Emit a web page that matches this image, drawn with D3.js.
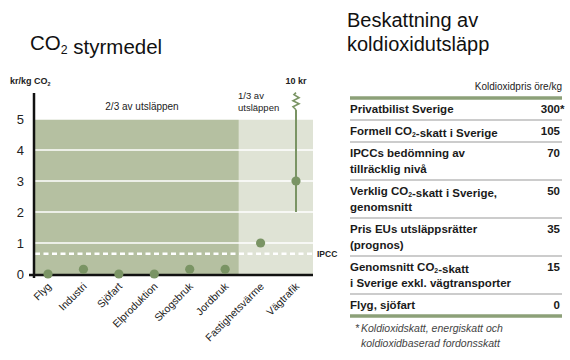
<!DOCTYPE html>
<meta charset="utf-8">
<style>
body { margin: 0; background: #fff; }
svg { font-family: "Liberation Sans", Arial, sans-serif; }
.cat { font-size: 10.5px; fill: #222; }
.ytick { font-size: 13px; fill: #222; }
.row { font-size: 11.5px; font-weight: bold; fill: #1a1a1a; }
.note { font-size: 10.5px; font-style: italic; fill: #444; }
</style>
<div id="chart"></div>
<script src="https://cdn.jsdelivr.net/npm/d3@7"></script>
<script>
// left chart data
var categories = ["Flyg", "Industri", "Sjöfart", "Elproduktion", "Skogsbruk", "Jordbruk", "Fastighetsvärme", "Vägtrafik"];
var values = [0, 0.15, 0, 0, 0.15, 0.15, 1, 3];
var rangeLow = 2;        // Vägtrafik range goes from 2 kr up to 10 kr (broken)
var ipccLevel = 0.65;
var yTicks = [0, 1, 2, 3, 4, 5];

// right table data
var tableLabels = [
  ["Privatbilist Sverige"],
  ["Formell CO₂-skatt i Sverige"],
  ["IPCCs bedömning av", "tillräcklig nivå"],
  ["Verklig CO₂-skatt i Sverige,", "genomsnitt"],
  ["Pris EUs utsläppsrätter", "(prognos)"],
  ["Genomsnitt CO₂-skatt", "i Sverige exkl. vägtransporter"],
  ["Flyg, sjöfart"]
];
var tableValues = ["300", "105", "70", "50", "35", "15", "0"];
var tableStars = [true, false, false, false, false, false, false];

var svg = d3.select("#chart").append("svg")
    .attr("width", 570)
    .attr("height", 360);

// writes a string, turning "₂" into a small lowered 2
function richText(sel, str) {
  var parts = str.split("₂");
  parts.forEach(function(p, i) {
    sel.append("tspan").text(p);
    if (i < parts.length - 1) {
      sel.append("tspan").attr("dy", "0.3em").style("font-size", "0.6em").text("2");
      sel.append("tspan").attr("dy", "-0.3em").text("");
    }
  });
}

// ---------- left chart ----------
var x = d3.scalePoint().domain(categories).range([48, 296]);
var y = d3.scaleLinear().domain([0, 5]).range([274, 119]);
var plotLeft = 35, plotRight = 313;
var split = (x("Jordbruk") + x("Fastighetsvärme")) / 2 - 4;

richText(svg.append("text").attr("x", 30).attr("y", 50)
  .style("font-size", "20.5px").attr("fill", "#111"), "CO₂ styrmedel");

richText(svg.append("text").attr("x", 10).attr("y", 84)
  .style("font-size", "9px").style("font-weight", "bold").attr("fill", "#222"), "kr/kg CO₂");

svg.append("rect").attr("x", plotLeft).attr("y", y(5))
  .attr("width", split - plotLeft).attr("height", y(0) - y(5)).attr("fill", "#b5c0a1");
svg.append("rect").attr("x", split).attr("y", y(5))
  .attr("width", plotRight - split).attr("height", y(0) - y(5)).attr("fill", "#dfe3d5");

// white gridlines
svg.selectAll(".grid").data(yTicks.slice(1)).enter().append("line")
  .attr("x1", plotLeft).attr("x2", plotRight)
  .attr("y1", function(d) { return y(d); }).attr("y2", function(d) { return y(d); })
  .attr("stroke", "#fff").attr("stroke-width", 1.3);

// IPCC dashed line
svg.append("line")
  .attr("x1", plotLeft).attr("x2", plotRight)
  .attr("y1", y(ipccLevel)).attr("y2", y(ipccLevel))
  .attr("stroke", "#fff").attr("stroke-width", 2.5).attr("stroke-dasharray", "5,3.5");
svg.append("text").attr("x", 317).attr("y", y(ipccLevel) + 3.5)
  .style("font-size", "8.5px").style("font-weight", "bold").attr("fill", "#222").text("IPCC");

svg.append("text").attr("x", 142).attr("y", 110).attr("text-anchor", "middle")
  .style("font-size", "10px").attr("fill", "#222").text("2/3 av utsläppen");
svg.append("text").attr("x", 238).attr("y", 99)
  .style("font-size", "9.5px").attr("fill", "#222").text("1/3 av");
svg.append("text").attr("x", 238).attr("y", 111)
  .style("font-size", "9.5px").attr("fill", "#222").text("utsläppen");

// Vägtrafik range with break to 10 kr
var vx = x("Vägtrafik");
var breakBottom = y(5.3), breakTop = y(5.85);
svg.append("line").attr("x1", vx).attr("x2", vx)
  .attr("y1", y(rangeLow)).attr("y2", breakBottom)
  .attr("stroke", "#7a9464").attr("stroke-width", 2);
var zz = [[vx, breakBottom], [vx - 3, breakBottom - 3], [vx + 3, breakBottom - 6], [vx - 3, breakBottom - 9],
          [vx + 3, breakBottom - 12], [vx - 2, breakBottom - 15], [vx, breakTop]];
svg.append("path").attr("d", d3.line()(zz))
  .attr("fill", "none").attr("stroke", "#7a9464").attr("stroke-width", 1.6);
svg.append("text").attr("x", vx).attr("y", 84).attr("text-anchor", "middle")
  .style("font-size", "9px").style("font-weight", "bold").attr("fill", "#222").text("10 kr");

// axes
svg.append("line").attr("x1", 34).attr("x2", 34).attr("y1", 93).attr("y2", 278)
  .attr("stroke", "#111").attr("stroke-width", 2.5);
svg.append("line").attr("x1", 29).attr("x2", plotRight).attr("y1", y(0) + 1).attr("y2", y(0) + 1)
  .attr("stroke", "#111").attr("stroke-width", 2.5);

svg.selectAll(".ytick").data(yTicks).enter().append("text")
  .attr("class", "ytick").attr("x", 24).attr("text-anchor", "end")
  .attr("y", function(d) { return y(d) + 5; })
  .text(function(d) { return d; });

// points
svg.selectAll(".dot").data(values).enter().append("circle")
  .attr("cx", function(d, i) { return x(categories[i]); })
  .attr("cy", function(d) { return y(d); })
  .attr("r", 4.6).attr("fill", "#7a9464");

svg.selectAll(".cat").data(categories).enter().append("text")
  .attr("class", "cat").attr("text-anchor", "end")
  .attr("transform", function(d) { return "translate(" + (x(d) + 4) + ",287)rotate(-45)"; })
  .text(function(d) { return d; });

// ---------- right table ----------
var tLeft = 350, tRight = 562;
svg.append("text").attr("x", 347).attr("y", 27).style("font-size", "20px").attr("fill", "#111").text("Beskattning av");
svg.append("text").attr("x", 347).attr("y", 51).style("font-size", "20px").attr("fill", "#111").text("koldioxidutsläpp");
svg.append("text").attr("x", tRight).attr("y", 90).attr("text-anchor", "end")
  .style("font-size", "10px").attr("fill", "#222").text("Koldioxidpris öre/kg");

var rowY = 98;
var rows = [];
tableLabels.forEach(function(lines, i) {
  var h = lines.length > 1 ? 38 : 22;
  rows.push({ top: rowY, lines: lines, value: tableValues[i], star: tableStars[i], h: h });
  rowY += h;
});

rows.forEach(function(r, i) {
  r.lines.forEach(function(l, j) {
    richText(svg.append("text").attr("class", "row").attr("x", tLeft)
      .attr("y", r.top + 15 + j * 16), l);
  });
  svg.append("text").attr("class", "row").attr("x", 560).attr("y", r.top + 15)
    .attr("text-anchor", "end").text(r.value);
  if (r.star) {
    svg.append("text").attr("class", "row").attr("x", 560).attr("y", r.top + 15).text("*");
  }
  if (i > 0) {
    svg.append("line").attr("x1", tLeft).attr("x2", tRight)
      .attr("y1", r.top).attr("y2", r.top).attr("stroke", "#9a9a9a").attr("stroke-width", 1.2);
  }
});

[98, rowY].forEach(function(yy) {
  svg.append("line").attr("x1", tLeft).attr("x2", tRight)
    .attr("y1", yy).attr("y2", yy).attr("stroke", "#8ca078").attr("stroke-width", 3.5);
});

svg.append("text").attr("class", "note").attr("x", 355).attr("y", rowY + 16).text("*");
svg.append("text").attr("class", "note").attr("x", 361).attr("y", rowY + 16).text("Koldioxidskatt, energiskatt och");
svg.append("text").attr("class", "note").attr("x", 361).attr("y", rowY + 31).text("koldioxidbaserad fordonsskatt");
</script>
